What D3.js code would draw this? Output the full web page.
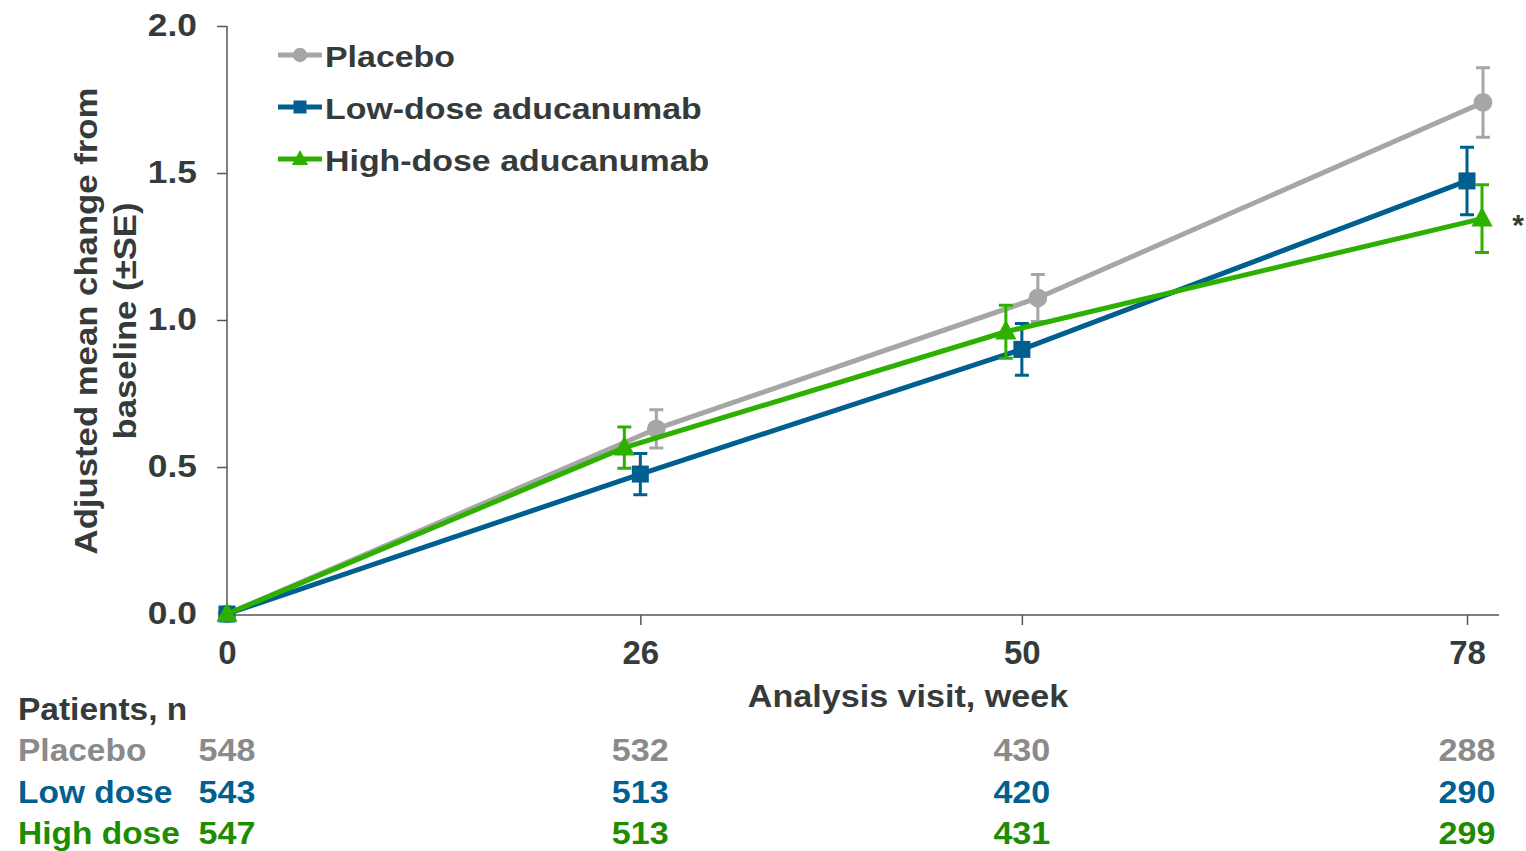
<!DOCTYPE html>
<html>
<head>
<meta charset="utf-8">
<script src="https://cdn.jsdelivr.net/npm/d3@7"></script>
<style>
  html, body { margin: 0; padding: 0; background: #fff; }
  svg { display: block; font-family: "Liberation Sans", Arial, sans-serif; font-weight: bold; }
</style>
</head>
<body>
<svg id="chart" width="1526" height="851"></svg>
<script>
// Analysis visits (weeks)
const weeks = [0, 26, 50, 78];
const yTicks = [0, 0.5, 1.0, 1.5, 2.0];

// Adjusted mean change from baseline, and standard errors
const placeboMean = [0, 0.63, 1.075, 1.74];
const placeboSE   = [0, 0.065, 0.08, 0.118];
const lowMean     = [0, 0.476, 0.90, 1.473];
const lowSE       = [0, 0.07, 0.088, 0.115];
const highMean    = [0, 0.566, 0.96, 1.345];
const highSE      = [0, 0.07, 0.09, 0.115];

// Patients, n at each visit
const placeboN = [548, 532, 430, 288];
const lowN     = [543, 513, 420, 290];
const highN    = [547, 513, 431, 299];

const seriesNames = ["Placebo", "Low-dose aducanumab", "High-dose aducanumab"];
const tableNames  = ["Placebo", "Low dose", "High dose"];

const TEXT = "#353b3b";
const styles = [
  { color: "#a6a6a6", tableColor: "#8a8a8a", shape: "circle",   dodge: [0, 16, 16, 16] },
  { color: "#005f8f", tableColor: "#00608f", shape: "square",   dodge: [0, 0, 0, 0] },
  { color: "#2eb000", tableColor: "#1e8c00", shape: "triangle", dodge: [0, -16, -16, 15] }
];

const series = [
  { name: seriesNames[0], mean: placeboMean, se: placeboSE, n: placeboN },
  { name: seriesNames[1], mean: lowMean,     se: lowSE,     n: lowN },
  { name: seriesNames[2], mean: highMean,    se: highSE,    n: highN }
].map((s, i) => Object.assign(s, styles[i], { label: tableNames[i] }));

// Widen glyphs horizontally (the typeface is set a little wide)
function stretch(sel, k) {
  sel.each(function () {
    const w = this.getComputedTextLength();
    d3.select(this).attr("textLength", w * k).attr("lengthAdjust", "spacingAndGlyphs");
  });
  return sel;
}

const svg = d3.select("#chart");
const x = d3.scaleLinear().domain([0, 78]).range([227, 1467]);
const y = d3.scaleLinear().domain([0, 2]).range([614, 26]);

// Axes
const yAxis = svg.append("g").attr("transform", `translate(${x(0)},0)`)
  .call(d3.axisLeft(y).tickValues(yTicks).tickFormat(d3.format(".1f")).tickSize(10).tickPadding(20));
const xAxis = svg.append("g").attr("transform", `translate(0,${y(0) + 1})`)
  .call(d3.axisBottom(x).tickValues(weeks).tickSize(10).tickPadding(14));
xAxis.select(".domain").attr("d", `M${x(0)},0H1499`);
yAxis.select(".domain").attr("d", `M0,${y(0)}V${y(2)}`);
[xAxis, yAxis].forEach(g => {
  g.selectAll(".domain, .tick line").attr("stroke", "#555").attr("stroke-width", 1.5);
  g.selectAll("text").attr("fill", TEXT).attr("font-size", 31).attr("font-weight", "bold")
    .attr("font-family", "Liberation Sans, Arial, sans-serif");
});
xAxis.selectAll(".tick").filter(d => d === 0).select("line").remove();
yAxis.selectAll(".tick").filter(d => d === 0).select("line").remove();
xAxis.selectAll("text").attr("dy", "0.75em").attr("font-size", 33);
stretch(yAxis.selectAll("text"), 1.14);

// Axis titles
stretch(svg.append("text").attr("x", 908).attr("y", 707).attr("text-anchor", "middle")
  .attr("fill", TEXT).attr("font-size", 31).text("Analysis visit, week"), 1.1);
const yt = svg.append("text").attr("transform", `translate(97,321) rotate(-90)`)
  .attr("text-anchor", "middle").attr("fill", TEXT).attr("font-size", 31);
stretch(yt.append("tspan").attr("x", 0).attr("dy", 0).text("Adjusted mean change from"), 1.12);
stretch(yt.append("tspan").attr("x", 0).attr("dy", 39).text("baseline (±SE)"), 1.12);

function drawMarker(g, shape, cx, cy, color, size) {
  if (shape === "circle") {
    g.append("circle").attr("cx", cx).attr("cy", cy).attr("r", size * 0.55).attr("fill", color);
  } else if (shape === "square") {
    const s = size;
    g.append("rect").attr("x", cx - s / 2).attr("y", cy - s / 2).attr("width", s).attr("height", s).attr("fill", color);
  } else {
    const w = size * 1.25, h = size * 1.15;
    g.append("path").attr("d", `M${cx},${cy - h * 0.6}L${cx + w / 2},${cy + h * 0.4}L${cx - w / 2},${cy + h * 0.4}Z`)
      .attr("fill", color);
  }
}

// Lines, error bars and markers
series.forEach(s => {
  const g = svg.append("g");
  const pts = weeks.map((w, i) => ({ px: x(w) + s.dodge[i], m: s.mean[i], se: s.se[i] }));
  g.append("path").datum(pts)
    .attr("d", d3.line().x(d => d.px).y(d => y(d.m)))
    .attr("fill", "none").attr("stroke", s.color).attr("stroke-width", 5);
  pts.filter(d => d.se > 0).forEach(d => {
    g.append("path")
      .attr("d", `M${d.px},${y(d.m - d.se)}V${y(d.m + d.se)}M${d.px - 7},${y(d.m + d.se)}H${d.px + 7}M${d.px - 7},${y(d.m - d.se)}H${d.px + 7}`)
      .attr("stroke", s.color).attr("stroke-width", 3).attr("fill", "none");
  });
  pts.forEach(d => drawMarker(g, s.shape, d.px, y(d.m), s.color, 17));
});

// Significance marker
svg.append("text").attr("x", 1518).attr("y", 235).attr("text-anchor", "middle")
  .attr("fill", TEXT).attr("font-size", 30).text("*");

// Legend
series.forEach((s, i) => {
  const ly = 55 + i * 52;
  const g = svg.append("g");
  g.append("line").attr("x1", 278).attr("x2", 322).attr("y1", ly).attr("y2", ly)
    .attr("stroke", s.color).attr("stroke-width", 5);
  drawMarker(g, s.shape, 300, ly, s.color, 13);
  stretch(g.append("text").attr("x", 325).attr("y", ly + 12).attr("fill", TEXT)
    .attr("font-size", 30).text(s.name), 1.13);
});

// Patients table
stretch(svg.append("text").attr("x", 18).attr("y", 720).attr("fill", TEXT).attr("font-size", 31)
  .text("Patients, n"), 1.08);
series.forEach((s, i) => {
  const ry = 761 + i * 41.5;
  stretch(svg.append("text").attr("x", 18).attr("y", ry).attr("fill", s.tableColor)
    .attr("font-size", 31).text(s.label), 1.08);
  s.n.forEach((v, j) => {
    stretch(svg.append("text").attr("x", x(weeks[j])).attr("y", ry).attr("text-anchor", "middle")
      .attr("fill", s.tableColor).attr("font-size", 31).text(v), 1.1);
  });
});
</script>
</body>
</html>
